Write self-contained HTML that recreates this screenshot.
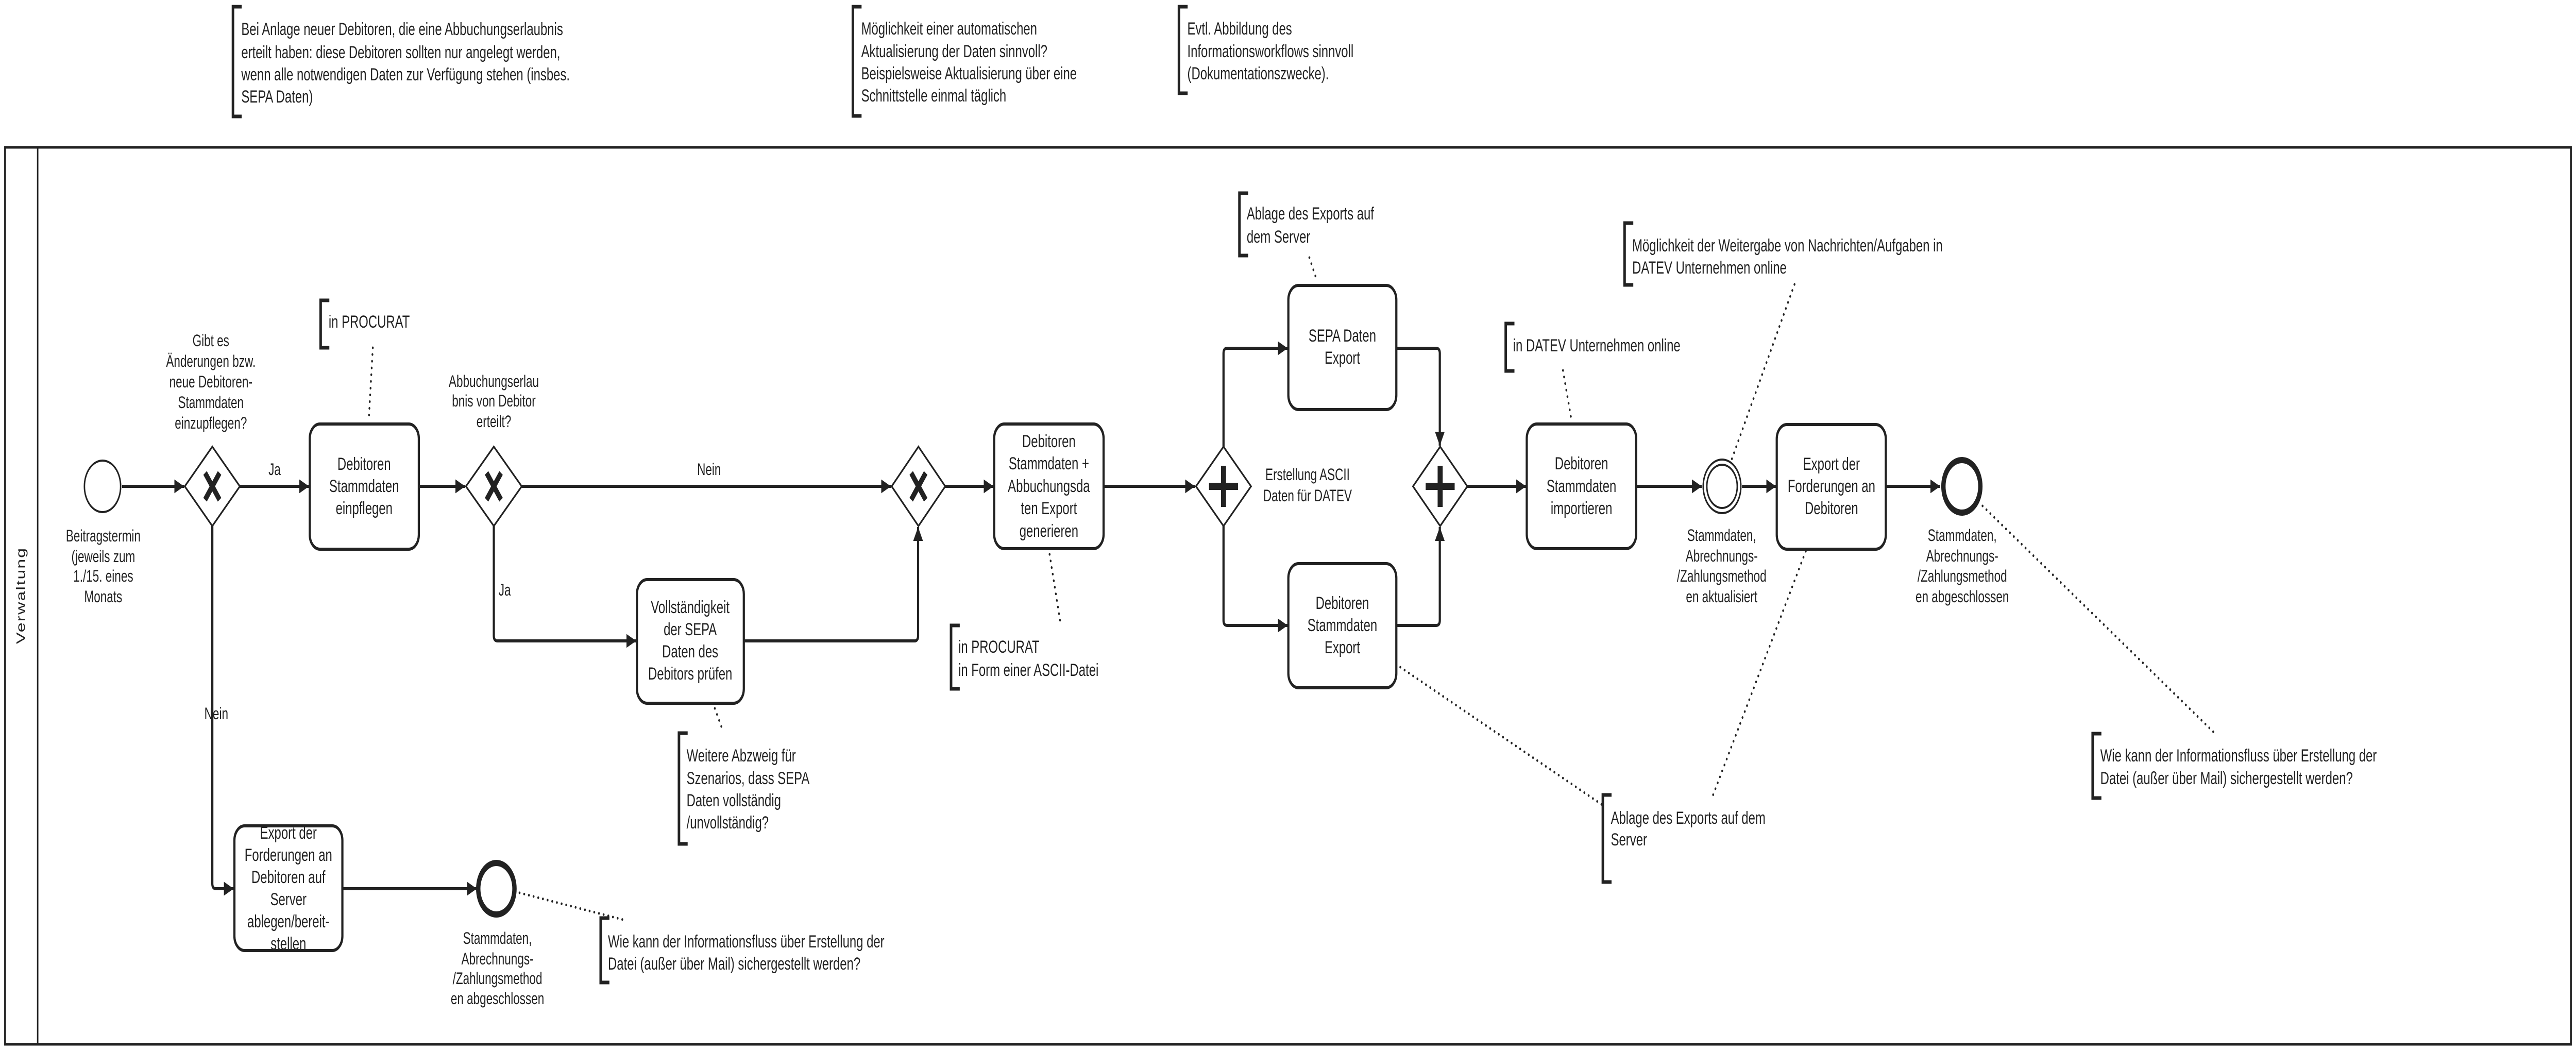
<!DOCTYPE html>
<html><head><meta charset="utf-8"><style>
html,body{margin:0;padding:0;background:#fff;width:100%;height:100%;overflow:hidden;}
svg{display:block;position:absolute;left:0;top:0;width:100%;height:100%;}
text{font-family:"Liberation Sans",Arial,sans-serif;fill:#222;}
.t{font-size:34px;text-anchor:middle;dominant-baseline:central;}
.l{font-size:32px;text-anchor:middle;dominant-baseline:central;}
.n{font-size:34px;dominant-baseline:central;}
.f{fill:none;stroke:#222;stroke-width:6;stroke-linejoin:round;}
.br{fill:none;stroke:#222;stroke-width:7;}
.d{fill:none;stroke:#222;stroke-width:5;stroke-dasharray:0.1 13;stroke-linecap:round;}
.task{fill:#fff;stroke:#222;stroke-width:6;}
.gw{fill:#fff;stroke:#222;stroke-width:4;}
</style></head><body>
<svg viewBox="0 0 7110 2040" preserveAspectRatio="none" xmlns="http://www.w3.org/2000/svg">
<defs>
<marker id="a" viewBox="0 0 10 10" refX="10" refY="5" markerWidth="4.5" markerHeight="4.5" orient="auto" markerUnits="strokeWidth">
<path d="M0,0 L10,5 L0,10 z" fill="#222"/></marker>
</defs>

<rect x="14" y="286" width="7082" height="1741" fill="none" stroke="#222" stroke-width="5"/>
<line x1="104" y1="286" x2="104" y2="2027" stroke="#222" stroke-width="4"/>
<text x="58" y="1156" font-size="34" text-anchor="middle" dominant-baseline="central" letter-spacing="2" transform="rotate(-90 58 1156)">Verwaltung</text>

<path class="f" d="M337,944 H508" marker-end="url(#a)"/>
<path class="f" d="M662,944 H853" marker-end="url(#a)"/>
<path class="f" d="M1156,944 H1284" marker-end="url(#a)"/>
<path class="f" d="M1440,944 H2459" marker-end="url(#a)"/>
<path class="f" d="M1363,1021 V1234 Q1363,1244 1373,1244 H1756" marker-end="url(#a)"/>
<path class="f" d="M2053,1244 H2524 Q2534,1244 2534,1234 V1023" marker-end="url(#a)"/>
<path class="f" d="M586,1021 V1715 Q586,1725 596,1725 H645" marker-end="url(#a)"/>
<path class="f" d="M945,1725 H1316" marker-end="url(#a)"/>
<path class="f" d="M2609,944 H2742" marker-end="url(#a)"/>
<path class="f" d="M3046,944 H3298" marker-end="url(#a)"/>
<path class="f" d="M3377,867 V686 Q3377,676 3387,676 H3554" marker-end="url(#a)"/>
<path class="f" d="M3377,1021 V1204 Q3377,1214 3387,1214 H3554" marker-end="url(#a)"/>
<path class="f" d="M3854,676 H3964 Q3974,676 3974,686 V865" marker-end="url(#a)"/>
<path class="f" d="M3854,1214 H3964 Q3974,1214 3974,1204 V1023" marker-end="url(#a)"/>
<path class="f" d="M4050,944 H4212" marker-end="url(#a)"/>
<path class="f" d="M4516,944 H4697" marker-end="url(#a)"/>
<path class="f" d="M4808,944 H4902" marker-end="url(#a)"/>
<path class="f" d="M5205,944 H5355" marker-end="url(#a)"/>

<text class="l" x="758" y="911" text-anchor="start">Ja</text>
<text class="l" x="1957" y="911" text-anchor="start">Nein</text>
<text class="l" x="1393" y="1145" text-anchor="start">Ja</text>
<text class="l" x="597" y="1385" text-anchor="start">Nein</text>

<circle cx="283" cy="944" r="50" fill="#fff" stroke="#222" stroke-width="4"/>
<circle cx="1370" cy="1725" r="50" fill="#fff" stroke="#222" stroke-width="12"/>
<circle cx="4753" cy="944" r="52" fill="#fff" stroke="#222" stroke-width="4"/>
<circle cx="4753" cy="944" r="42" fill="none" stroke="#222" stroke-width="4"/>
<circle cx="5415" cy="944" r="51" fill="#fff" stroke="#222" stroke-width="12"/>

<path class="gw" d="M586,867 L662,944 L586,1021 L510,944 Z"/>
<path d="M566,918 L606,970 M606,918 L566,970" stroke="#222" stroke-width="12"/>
<path class="gw" d="M1363,867 L1440,944 L1363,1021 L1286,944 Z"/>
<path d="M1343,918 L1383,970 M1383,918 L1343,970" stroke="#222" stroke-width="12"/>
<path class="gw" d="M2535,867 L2609,944 L2535,1021 L2461,944 Z"/>
<path d="M2515,918 L2555,970 M2555,918 L2515,970" stroke="#222" stroke-width="12"/>
<path class="gw" d="M3377,867 L3453,944 L3377,1021 L3301,944 Z"/>
<path d="M3377,904 V984 M3337,944 H3417" stroke="#222" stroke-width="14"/>
<path class="gw" d="M3975,867 L4050,944 L3975,1021 L3900,944 Z"/>
<path d="M3975,904 V984 M3935,944 H4015" stroke="#222" stroke-width="14"/>

<rect class="task" x="855" y="823" width="301" height="243" rx="28"/>
<text class="t" x="1005" y="901">Debitoren</text><text class="t" x="1005" y="944">Stammdaten</text><text class="t" x="1005" y="987">einpflegen</text>

<rect class="task" x="1758" y="1125" width="295" height="240" rx="28"/>
<text class="t" x="1905" y="1179">Vollständigkeit</text><text class="t" x="1905" y="1222">der SEPA</text><text class="t" x="1905" y="1265">Daten des</text><text class="t" x="1905" y="1308">Debitors prüfen</text>

<rect class="task" x="647" y="1603" width="298" height="242" rx="28"/>
<text class="t" x="796" y="1617">Export der</text><text class="t" x="796" y="1660">Forderungen an</text><text class="t" x="796" y="1703">Debitoren auf</text><text class="t" x="796" y="1746">Server</text><text class="t" x="796" y="1789">ablegen/bereit-</text><text class="t" x="796" y="1832">stellen</text>

<rect class="task" x="2744" y="823" width="302" height="242" rx="28"/>
<text class="t" x="2895" y="857">Debitoren</text><text class="t" x="2895" y="900">Stammdaten +</text><text class="t" x="2895" y="944">Abbuchungsda</text><text class="t" x="2895" y="987">ten Export</text><text class="t" x="2895" y="1031">generieren</text>

<rect class="task" x="3556" y="554" width="298" height="241" rx="28"/>
<text class="t" x="3705" y="652">SEPA Daten</text><text class="t" x="3705" y="695">Export</text>

<rect class="task" x="3556" y="1094" width="298" height="241" rx="28"/>
<text class="t" x="3705" y="1171">Debitoren</text><text class="t" x="3705" y="1214">Stammdaten</text><text class="t" x="3705" y="1257">Export</text>

<rect class="task" x="4214" y="823" width="302" height="242" rx="28"/>
<text class="t" x="4365" y="900">Debitoren</text><text class="t" x="4365" y="944">Stammdaten</text><text class="t" x="4365" y="987">importieren</text>

<rect class="task" x="4904" y="824" width="301" height="242" rx="28"/>
<text class="t" x="5055" y="901">Export der</text><text class="t" x="5055" y="944">Forderungen an</text><text class="t" x="5055" y="987">Debitoren</text>

<text class="l" x="582" y="661">Gibt es</text><text class="l" x="582" y="701">Änderungen bzw.</text><text class="l" x="582" y="741">neue Debitoren-</text><text class="l" x="582" y="781">Stammdaten</text><text class="l" x="582" y="821">einzupflegen?</text>
<text class="l" x="1363" y="740">Abbuchungserlau</text><text class="l" x="1363" y="778">bnis von Debitor</text><text class="l" x="1363" y="818">erteilt?</text>
<text class="l" x="285" y="1040">Beitragstermin</text><text class="l" x="285" y="1080">(jeweils zum</text><text class="l" x="285" y="1118">1./15. eines</text><text class="l" x="285" y="1158">Monats</text>
<text class="l" x="3609" y="921">Erstellung ASCII</text><text class="l" x="3609" y="962">Daten für DATEV</text>
<text class="l" x="1373" y="1821">Stammdaten,</text><text class="l" x="1373" y="1861">Abrechnungs-</text><text class="l" x="1373" y="1899">/Zahlungsmethod</text><text class="l" x="1373" y="1938">en abgeschlossen</text>
<text class="l" x="4752" y="1039">Stammdaten,</text><text class="l" x="4752" y="1079">Abrechnungs-</text><text class="l" x="4752" y="1118">/Zahlungsmethod</text><text class="l" x="4752" y="1158">en aktualisiert</text>
<text class="l" x="5416" y="1039">Stammdaten,</text><text class="l" x="5416" y="1079">Abrechnungs-</text><text class="l" x="5416" y="1118">/Zahlungsmethod</text><text class="l" x="5416" y="1158">en abgeschlossen</text>

<path class="d" d="M1029,675 L1018,813"/>
<path class="d" d="M1973,1375 L1995,1418"/>
<path class="d" d="M1434,1733 L1725,1786"/>
<path class="d" d="M2897,1076 L2928,1214"/>
<path class="d" d="M3614,500 L3635,545"/>
<path class="d" d="M4314,719 L4337,814"/>
<path class="d" d="M4953,552 L4779,893"/>
<path class="d" d="M3865,1295 L4424,1563"/>
<path class="d" d="M4984,1070 L4725,1549"/>
<path class="d" d="M5472,982 L6117,1426"/>

<path class="br" d="M667,13 H643 V226 H667"/>
<text class="n" x="666" y="57">Bei Anlage neuer Debitoren, die eine Abbuchungserlaubnis</text>
<text class="n" x="666" y="102">erteilt haben: diese Debitoren sollten nur angelegt werden,</text>
<text class="n" x="666" y="145">wenn alle notwendigen Daten zur Verfügung stehen (insbes.</text>
<text class="n" x="666" y="188">SEPA Daten)</text>

<path class="br" d="M2378,13 H2354 V225 H2378"/>
<text class="n" x="2377" y="56">Möglichkeit einer automatischen</text>
<text class="n" x="2377" y="100">Aktualisierung der Daten sinnvoll?</text>
<text class="n" x="2377" y="143">Beispielsweise Aktualisierung über eine</text>
<text class="n" x="2377" y="186">Schnittstelle einmal täglich</text>

<path class="br" d="M3278,13 H3254 V181 H3278"/>
<text class="n" x="3277" y="56">Evtl. Abbildung des</text>
<text class="n" x="3277" y="100">Informationsworkflows sinnvoll</text>
<text class="n" x="3277" y="143">(Dokumentationszwecke).</text>

<path class="br" d="M909,583 H885 V675 H909"/>
<text class="n" x="907" y="625">in PROCURAT</text>

<path class="br" d="M1898,1423 H1874 V1638 H1898"/>
<text class="n" x="1895" y="1467">Weitere Abzweig für</text>
<text class="n" x="1895" y="1511">Szenarios, dass SEPA</text>
<text class="n" x="1895" y="1554">Daten vollständig</text>
<text class="n" x="1895" y="1597">/unvollständig?</text>

<path class="br" d="M1682,1782 H1658 V1907 H1682"/>
<text class="n" x="1678" y="1828">Wie kann der Informationsfluss über Erstellung der</text>
<text class="n" x="1678" y="1871">Datei (außer über Mail) sichergestellt werden?</text>

<path class="br" d="M2649,1214 H2625 V1337 H2649"/>
<text class="n" x="2645" y="1256">in PROCURAT</text>
<text class="n" x="2645" y="1301">in Form einer ASCII-Datei</text>

<path class="br" d="M3445,375 H3421 V496 H3445"/>
<text class="n" x="3441" y="415">Ablage des Exports auf</text>
<text class="n" x="3441" y="460">dem Server</text>

<path class="br" d="M4180,628 H4156 V720 H4180"/>
<text class="n" x="4176" y="671">in DATEV Unternehmen online</text>

<path class="br" d="M4508,433 H4484 V553 H4508"/>
<text class="n" x="4505" y="477">Möglichkeit der Weitergabe von Nachrichten/Aufgaben in</text>
<text class="n" x="4505" y="520">DATEV Unternehmen online</text>

<path class="br" d="M4448,1543 H4424 V1712 H4448"/>
<text class="n" x="4446" y="1588">Ablage des Exports auf dem</text>
<text class="n" x="4446" y="1630">Server</text>

<path class="br" d="M5800,1424 H5776 V1549 H5800"/>
<text class="n" x="5797" y="1467">Wie kann der Informationsfluss über Erstellung der</text>
<text class="n" x="5797" y="1511">Datei (außer über Mail) sichergestellt werden?</text>
</svg>
</body></html>
